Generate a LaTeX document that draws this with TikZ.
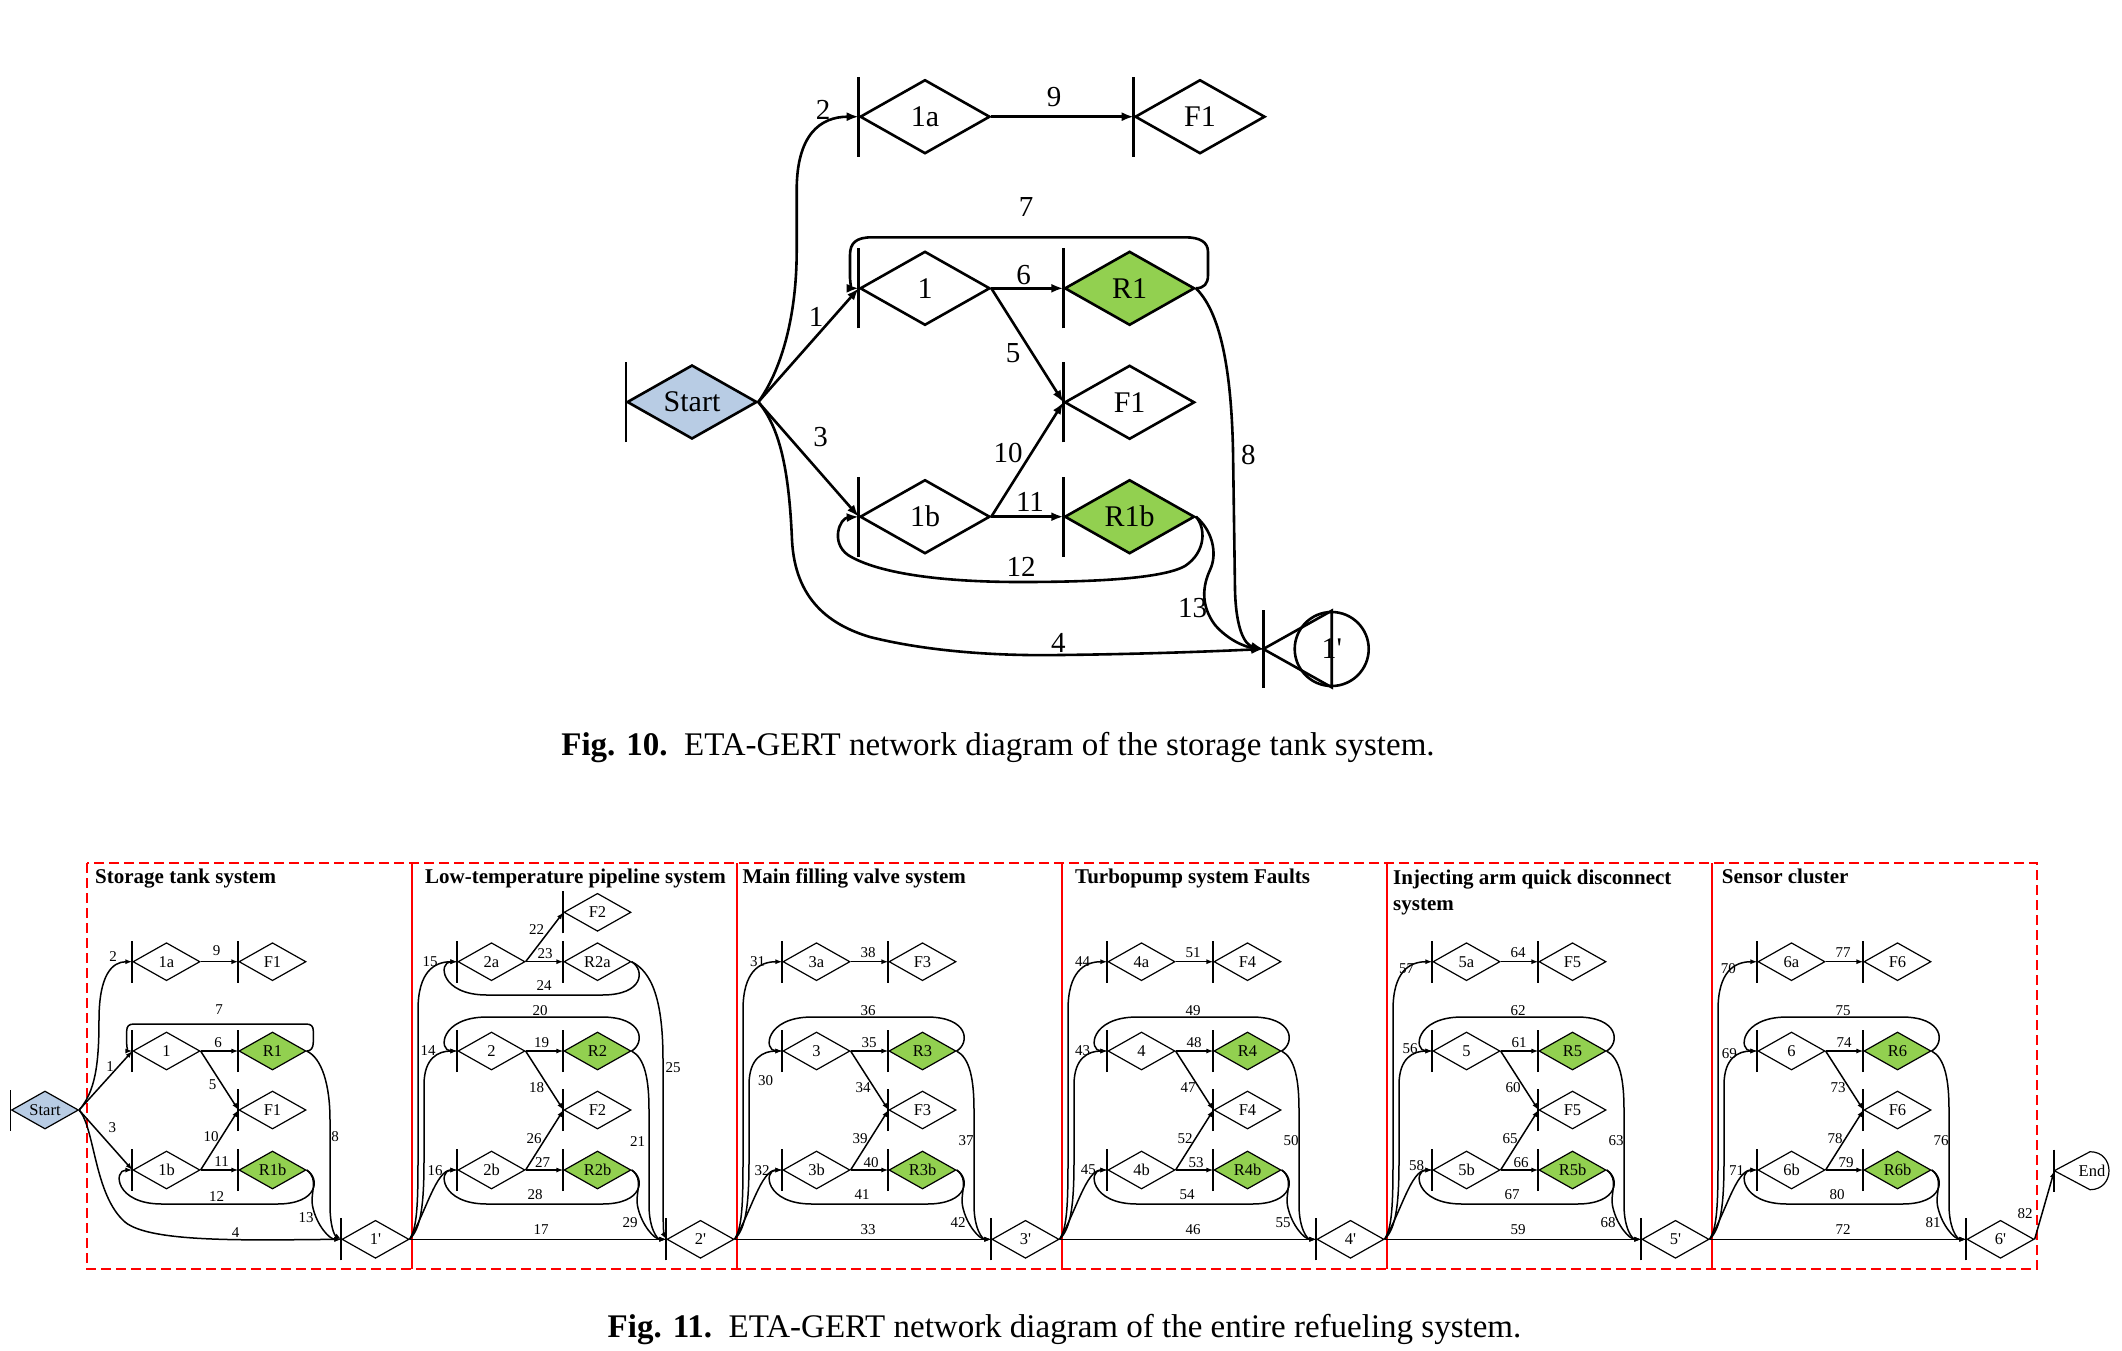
\documentclass[tikz,border=0pt]{standalone}
\usepackage{fontspec}
\setmainfont{Liberation Serif}
\usetikzlibrary{shapes.geometric,arrows.meta}
\definecolor{gr}{HTML}{92D050}
\definecolor{bl}{HTML}{B8CCE4}
\newcommand{\gbar}[3][2pt]{\draw[line width=#1] (#2.west) ++(0,#3) -- ++(0,-2*#3);}
\newcommand{\pr}{\textquotesingle}
\tikzset{
 gd/.style={diamond, draw, line width=1.2pt, minimum width=67pt, minimum height=38pt, aspect=1.76, inner sep=0pt, fill=white, font=\fontsize{16.5}{16.5}\selectfont},
 gg/.style={gd, fill=gr},
 td/.style={diamond, draw, line width=2.6pt, minimum width=130pt, minimum height=74pt, aspect=1.76, inner sep=0pt, fill=white, font=\fontsize{30}{30}\selectfont},
 tg/.style={td, fill=gr},
 ed/.style={line width=1.5pt, -{Latex[length=7pt,width=5pt]}},
 te/.style={line width=2.6pt, -{Latex[length=12pt,width=9pt]}},
 lb/.style={font=\fontsize{15}{15}\selectfont, inner sep=0pt},
 tl/.style={font=\fontsize{29}{29}\selectfont, inner sep=0pt},
 ttl/.style={font=\bfseries\fontsize{21}{21}\selectfont, anchor=base west, inner sep=0pt},
 panelbox/.style={draw=red, line width=1.5pt, dash pattern=on 10pt off 5pt},
 capt/.style={font=\fontsize{33}{33}\selectfont, inner sep=0pt},
}
\begin{document}
\begin{tikzpicture}[x=1pt,y=-1pt]
\fill[white] (0,0) rectangle (2122,1350);
\useasboundingbox (0,0) rectangle (2122,1350);

%================ Fig. 10 =================
\node[td, fill=bl] (TS) at (692,402) {Start};
\node[td] (Ta) at (925,116.7) {1a};
\node[td] (TFa) at (1200,116.7) {F1};
\node[td] (T1) at (925,288.3) {1};
\node[tg] (TR) at (1129.6,288.3) {R1};
\node[td] (TF) at (1129.6,402.3) {F1};
\node[td] (Tb) at (925,516.7) {1b};
\node[tg] (TRb) at (1129.6,516.7) {R1b};
\node[circle, draw, line width=2.6pt, minimum size=74pt, inner sep=0pt, font=\fontsize{30}{30}\selectfont] (TP) at (1331.7,649) {1\pr};
\coordinate (TPin) at (1263.3,649);
\draw[line width=2.6pt, line join=miter] (TP.north) -- (TPin) -- (TP.south) -- cycle;
\gbar[1.8pt]{TS}{40}
\foreach \n in {Ta,TFa,T1,TR,TF,Tb,TRb} {\gbar[2.6pt]{\n}{40}}
\draw[line width=2.6pt] (TPin) ++(0,-39) -- ++(0,78);

\draw[te] (TS.east) .. controls (780,372) and (796.7,320) .. (796.7,250) -- (796.7,190) .. controls (796.7,135) and (820,116.7) .. (Ta.west);
\draw[te] (Ta.east) -- (TFa.west);
\draw[te] (TS.east) -- (T1.west);
\draw[te] (TS.east) -- (Tb.west);
\draw[te] (T1.east) -- (TR.west);
\draw[te] (T1.east) -- (TF.west);
\draw[te] (Tb.east) -- (TF.west);
\draw[te] (Tb.east) -- (TRb.west);
\draw[te] (TR.east) .. controls (1204,288) and (1208,284) .. (1208,275) -- (1208,252) .. controls (1208,242) and (1200,237.3) .. (1185,237.3) -- (872,237.3) .. controls (856,237.3) and (850,243) .. (850,255) -- (850,278) .. controls (850,285) and (853,288.3) .. (T1.west);
\draw[te] (TRb.east) .. controls (1206,528) and (1206,552) .. (1185,566) .. controls (1160,580) and (1080,582) .. (1020,582) .. controls (950,582) and (880,575) .. (848,555) .. controls (830,542) and (840,518) .. (Tb.west);
\draw[te] (TR.east) .. controls (1218,310) and (1231,360) .. (1233,450) -- (1235,590) .. controls (1236,630) and (1245,645) .. (TPin);
\draw[te] (TRb.east) .. controls (1212,530) and (1218,553) .. (1210,570) .. controls (1203,585) and (1200,605) .. (1215,625) .. controls (1228,640) and (1245,647) .. (TPin);
\draw[te] (TS.east) .. controls (780,428) and (789,470) .. (792,540) .. controls (795,600) and (830,625) .. (870,637) .. controls (930,652) and (1000,656) .. (1060,655) .. controls (1150,654) and (1220,651) .. (TPin);

\node[tl] at (823,110) {2};
\node[tl] at (1054,96.7) {9};
\node[tl] at (1026,207) {7};
\node[tl] at (1023.5,275) {6};
\node[tl] at (816,316.7) {1};
\node[tl] at (1013,353) {5};
\node[tl] at (820.7,436.7) {3};
\node[tl] at (1008,453) {10};
\node[tl] at (1030,501.7) {11};
\node[tl] at (1021,567) {12};
\node[tl] at (1248.3,455) {8};
\node[tl] at (1192.7,608.3) {13};
\node[tl] at (1058.3,643.3) {4};

\node[capt] (cap10) at (998,748) {\textbf{Fig. 10.}\enspace ETA-GERT network diagram of the storage tank system.};

%================ Fig. 11 =================
\draw[panelbox] (87,863) rectangle (2037,1269);
\foreach \sx in {412,737,1062,1387,1712} {\draw[red, line width=1.5pt] (\sx,863) -- (\sx,1269);}
\node[ttl] at (95,883) {Storage tank system};
\node[ttl] at (425,883) {Low-temperature pipeline system};
\node[ttl] at (742.3,883) {Main filling valve system};
\node[ttl] at (1075,883) {Turbopump system Faults};
\node[ttl] at (1393,884) {Injecting arm quick disconnect};
\node[ttl] at (1393,910) {system};
\node[ttl] at (1721.7,883) {Sensor cluster};

% ---- panel 1
\node[gd, fill=bl] (S0) at (45,1110) {Start};
\node[gd] (A1) at (166.5,961.7) {1a};
\node[gd] (FA1) at (272.5,961.7) {F1};
\node[gd] (X1) at (166.5,1051) {1};
\node[gg] (R1) at (272.5,1051) {R1};
\node[gd] (F1) at (272.5,1110) {F1};
\node[gd] (B1) at (166.5,1170) {1b};
\node[gg] (RB1) at (272.5,1170) {R1b};
\node[gd] (P1) at (375.5,1239.3) {1\pr};
\gbar[1pt]{S0}{20.5}
\foreach \n in {A1,FA1,X1,R1,F1,B1,RB1,P1} {\gbar{\n}{21}}

\draw[ed] (S0.east) .. controls (95,1092) and (99,1065) .. (99,1020) .. controls (99,975) and (112,961.7) .. (A1.west);
\draw[ed] (S0.east) -- (X1.west);
\draw[ed] (S0.east) -- (B1.west);
\draw[ed] (S0.east) .. controls (95,1128) and (94,1195) .. (125,1222) .. controls (150,1243) and (250,1240) .. (P1.west);
\draw[ed] (A1.east) -- (FA1.west);
\draw[ed] (X1.east) -- (R1.west);
\draw[ed] (X1.east) -- (F1.west);
\draw[ed] (B1.east) -- (F1.west);
\draw[ed] (B1.east) -- (RB1.west);
\draw[ed] (R1.east) .. controls (311,1051) and (313.3,1048) .. (313.3,1042) -- (313.3,1031) .. controls (313.3,1026) and (311,1024) .. (306,1024) -- (134,1024) .. controls (129,1024) and (126.7,1026) .. (126.7,1031) -- (126.7,1044) .. controls (126.7,1049) and (129,1051) .. (X1.west);
\draw[ed] (RB1.east) .. controls (320,1178) and (319,1204) .. (277,1204) -- (162,1204) .. controls (115,1204) and (113,1170) .. (B1.west);
\draw[ed] (R1.east) .. controls (322,1058) and (330,1085) .. (330,1120) -- (330,1205) .. controls (330,1225) and (334,1235) .. (P1.west);
\draw[ed] (RB1.east) .. controls (320,1180) and (309,1193) .. (313,1208) .. controls (317,1225) and (329,1239.3) .. (P1.west);

\node[lb] at (113,957) {2};
\node[lb] at (110,1066.7) {1};
\node[lb] at (112.3,1128) {3};
\node[lb] at (235.7,1233) {4};
\node[lb] at (216.7,951) {9};
\node[lb] at (219,1010) {7};
\node[lb] at (218,1042.7) {6};
\node[lb] at (212.7,1085) {5};
\node[lb] at (335,1137) {8};
\node[lb] at (211,1136.7) {10};
\node[lb] at (221.7,1162) {11};
\node[lb] at (216.7,1196.7) {12};
\node[lb] at (306,1218) {13};

% ---- panel 2
\node[gd] (FT2) at (597.5,912.3) {F2};
\node[gd] (A2) at (491.5,961.7) {2a};
\node[gd] (RA2) at (597.5,961.7) {R2a};
\node[gd] (X2) at (491.5,1051) {2};
\node[gg] (R2) at (597.5,1051) {R2};
\node[gd] (F2) at (597.5,1110) {F2};
\node[gd] (B2) at (491.5,1170) {2b};
\node[gg] (RB2) at (597.5,1170) {R2b};
\node[gd] (P2) at (700.5,1239.3) {2\pr};
\foreach \n in {FT2,A2,RA2,X2,R2,F2,B2,RB2,P2} {\gbar{\n}{21}}

\draw[ed] (P1.east) .. controls (417,1228) and (418,1205) .. (418,1160) -- (418,1010) .. controls (418,972) and (434,961.7) .. (A2.west);
\draw[ed] (P1.east) .. controls (421,1228) and (424,1205) .. (424,1160) -- (424,1085) .. controls (424,1058) and (438,1051) .. (X2.west);
\draw[ed] (P1.east) .. controls (426,1212) and (436,1170) .. (B2.west);
\draw[ed] (P1.east) -- (P2.west);
\draw[ed] (A2.east) -- (FT2.west);
\draw[ed] (A2.east) -- (RA2.west);
\draw[ed] (RA2.east) .. controls (645,970) and (644,995) .. (602,995) -- (487,995) .. controls (440,995) and (438,961.7) .. (A2.west);
\draw[ed] (RA2.east) .. controls (652,972) and (663,1000) .. (663,1060) -- (663,1205) .. controls (663,1225) and (664,1235) .. (P2.west);
\draw[ed] (R2.east) .. controls (645,1043) and (644,1017) .. (602,1017) -- (487,1017) .. controls (440,1017) and (438,1051) .. (X2.west);
\draw[ed] (X2.east) -- (R2.west);
\draw[ed] (X2.east) -- (F2.west);
\draw[ed] (R2.east) .. controls (645,1058) and (649,1080) .. (649,1110) -- (649,1205) .. controls (649,1228) and (657,1239.3) .. (P2.west);
\draw[ed] (B2.east) -- (F2.west);
\draw[ed] (B2.east) -- (RB2.west);
\draw[ed] (RB2.east) .. controls (645,1178) and (644,1204) .. (602,1204) -- (487,1204) .. controls (440,1204) and (438,1170) .. (B2.west);
\draw[ed] (RB2.east) .. controls (645,1180) and (634,1193) .. (638,1208) .. controls (642,1225) and (654,1239.3) .. (P2.west);

\node[lb] at (430,961.7) {15};
\node[lb] at (428,1051) {14};
\node[lb] at (435,1170.7) {16};
\node[lb] at (541,1230) {17};
\node[lb] at (536.7,930) {22};
\node[lb] at (545,954) {23};
\node[lb] at (544,986) {24};
\node[lb] at (673,1068) {25};
\node[lb] at (540,1011) {20};
\node[lb] at (541.7,1043) {19};
\node[lb] at (536.7,1088) {18};
\node[lb] at (637.7,1141.7) {21};
\node[lb] at (534,1139) {26};
\node[lb] at (542.7,1163) {27};
\node[lb] at (535,1195) {28};
\node[lb] at (630,1222.7) {29};

% ---- panels 3..6
\foreach \kk/\Lx/\na/\nx/\nb/\ns/\naF/\ntop/\nR/\nF/\nRP/\nBF/\nBR/\nbot/\nBP/\lax/\lay/\lxx/\lxy/\lbx/\lby in {
 3/737/31/30/32/33/38/36/35/34/37/39/40/41/42/757.7/961.7/765.7/1080.7/762/1170.7,
 4/1062/44/43/45/46/51/49/48/47/50/52/53/54/55/1082.7/961.7/1082.7/1051/1088.3/1169.3,
 5/1387/57/56/58/59/64/62/61/60/63/65/66/67/68/1406.7/968.3/1410/1049/1416.7/1166,
 6/1712/70/69/71/72/77/75/74/73/76/78/79/80/81/1728.3/968.3/1729.3/1053.3/1736.7/1170.7}
{
 \pgfmathtruncatemacro\pk{\kk-1}
 \node[gd] (A\kk) at (\Lx+79.5,961.7) {\kk a};
 \node[gd] (FA\kk) at (\Lx+185.5,961.7) {F\kk};
 \node[gd] (X\kk) at (\Lx+79.5,1051) {\kk};
 \node[gg] (R\kk) at (\Lx+185.5,1051) {R\kk};
 \node[gd] (F\kk) at (\Lx+185.5,1110) {F\kk};
 \node[gd] (B\kk) at (\Lx+79.5,1170) {\kk b};
 \node[gg] (RB\kk) at (\Lx+185.5,1170) {R\kk b};
 \node[gd] (P\kk) at (\Lx+288.5,1239.3) {\kk\pr};
 \foreach \n in {A,FA,X,R,F,B,RB,P} {\gbar{\n\kk}{21}}
 \draw[ed] (P\pk.east) .. controls (\Lx+5,1228) and (\Lx+6,1205) .. (\Lx+6,1160) -- (\Lx+6,1010) .. controls (\Lx+6,972) and (\Lx+22,961.7) .. (A\kk.west);
 \draw[ed] (P\pk.east) .. controls (\Lx+9,1228) and (\Lx+12,1205) .. (\Lx+12,1160) -- (\Lx+12,1085) .. controls (\Lx+12,1058) and (\Lx+26,1051) .. (X\kk.west);
 \draw[ed] (P\pk.east) .. controls (\Lx+14,1212) and (\Lx+24,1170) .. (B\kk.west);
 \draw[ed] (P\pk.east) -- (P\kk.west);
 \draw[ed] (A\kk.east) -- (FA\kk.west);
 \draw[ed] (X\kk.east) -- (R\kk.west);
 \draw[ed] (X\kk.east) -- (F\kk.west);
 \draw[ed] (B\kk.east) -- (F\kk.west);
 \draw[ed] (B\kk.east) -- (RB\kk.west);
 \draw[ed] (R\kk.east) .. controls (\Lx+233,1043) and (\Lx+232,1017) .. (\Lx+190,1017) -- (\Lx+75,1017) .. controls (\Lx+28,1017) and (\Lx+26,1051) .. (X\kk.west);
 \draw[ed] (RB\kk.east) .. controls (\Lx+233,1178) and (\Lx+232,1204) .. (\Lx+190,1204) -- (\Lx+75,1204) .. controls (\Lx+28,1204) and (\Lx+26,1170) .. (B\kk.west);
 \draw[ed] (R\kk.east) .. controls (\Lx+233,1058) and (\Lx+237,1080) .. (\Lx+237,1110) -- (\Lx+237,1205) .. controls (\Lx+237,1228) and (\Lx+245,1239.3) .. (P\kk.west);
 \draw[ed] (RB\kk.east) .. controls (\Lx+233,1180) and (\Lx+222,1193) .. (\Lx+226,1208) .. controls (\Lx+230,1225) and (\Lx+242,1239.3) .. (P\kk.west);
 \node[lb] at (\lax,\lay) {\na};
 \node[lb] at (\lxx,\lxy) {\nx};
 \node[lb] at (\lbx,\lby) {\nb};
 \node[lb] at (\Lx+131,1230) {\ns};
 \node[lb] at (\Lx+131,953) {\naF};
 \node[lb] at (\Lx+131,1011) {\ntop};
 \node[lb] at (\Lx+132,1043) {\nR};
 \node[lb] at (\Lx+126,1088) {\nF};
 \node[lb] at (\Lx+229,1141) {\nRP};
 \node[lb] at (\Lx+123,1139) {\nBF};
 \node[lb] at (\Lx+134,1163) {\nBR};
 \node[lb] at (\Lx+125,1195) {\nbot};
 \node[lb] at (\Lx+221,1222.7) {\nBP};
}

% ---- End node
\coordinate (Ein) at (2054.3,1170.7);
\draw[line width=1.2pt, line join=miter] (Ein) -- (2090,1151.7) .. controls (2115.3,1151.7) and (2115.3,1189.7) .. (2090,1189.7) -- cycle;
\node[inner sep=0pt, font=\fontsize{16.5}{16.5}\selectfont] (End) at (2092,1170.7) {End};
\draw[line width=2pt] (Ein) ++(0,-21) -- ++(0,42);
\draw[ed] (P6.east) -- (Ein);
\node[lb] at (2025,1213.3) {82};

\node[capt] (cap11) at (1064.5,1330) {\textbf{Fig. 11.}\enspace ETA-GERT network diagram of the entire refueling system.};
\end{tikzpicture}
\end{document}
